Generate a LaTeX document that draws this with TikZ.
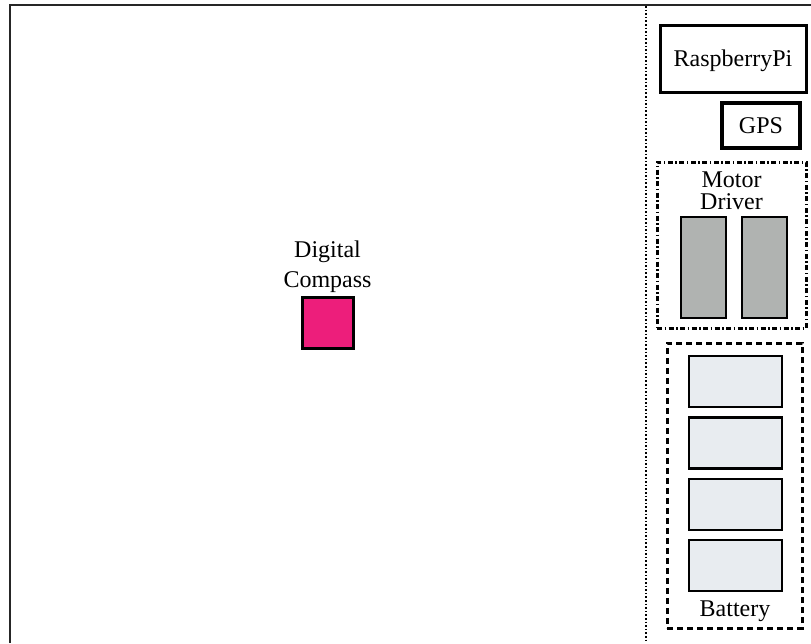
\documentclass[tikz,border=0pt]{standalone}
\usepackage{fontspec}
\setmainfont{Liberation Serif}
\usetikzlibrary{positioning}

\definecolor{compasspink}{RGB}{237,30,123}
\definecolor{drivergray}{RGB}{176,179,177}
\definecolor{cellblue}{RGB}{232,236,240}

\begin{document}
\begin{tikzpicture}[
    x=1pt, y=-1pt,
    every node/.style={font=\fontsize{24}{30}\selectfont},
    box/.style={rectangle, draw, line width=3pt, inner sep=0pt, text depth=0pt},
    driver/.style={rectangle, draw, line width=2.7pt, fill=drivergray, minimum width=45pt, minimum height=101pt},
    cell/.style={rectangle, draw, line width=2.7pt, fill=cellblue, minimum width=93pt, minimum height=51pt},
    group/.style={rectangle, draw, line width=3pt, inner sep=0pt},
    caption/.style={inner sep=0pt, align=center},
]
\useasboundingbox (0,0) rectangle (811,643);

% ====== Frame and divider ======
\draw[line width=2.4pt, black!85] (10,643) -- (10,5) -- (811,5);
\draw[line width=1.6pt, dotted] (646,6) -- (646,643);

% ====== Compass ======
\node[rectangle, draw, line width=3pt, fill=compasspink, minimum width=51pt, minimum height=51pt] (compass) at (327.5,322.5) {};
\node[caption, above=3pt of compass] (compasslbl) {Digital\\Compass};

% ====== Controller side ======
\node[box, minimum width=146pt, minimum height=67pt] (pi) at (733,58.5) {RaspberryPi};
\node[box, line width=3.4pt, minimum width=78pt, minimum height=45pt] (gps) at (761,125.5) {GPS};

% ====== Motor driver ======
\node[group, dash pattern=on 5pt off 2.5pt on 1.5pt off 2.5pt, minimum width=149pt, minimum height=166pt] (motor) at (731.5,245) {};
\node[caption, font=\fontsize{24}{22}\selectfont, below=11pt of motor.north] (motorlbl) {Motor\\Driver};
\node[driver] (drvA) at (703.5,267.5) {};
\node[driver] (drvB) at (764.5,267.5) {};

% ====== Battery pack ======
\node[group, dash pattern=on 6pt off 4pt, minimum width=135pt, minimum height=285pt] (battery) at (734.5,485.5) {};
\node[cell] (cell1) at (735.5,381.5) {};
\node[cell] (cell2) at (735.5,443) {};
\node[cell] (cell3) at (735.5,504.5) {};
\node[cell] (cell4) at (735.5,565.5) {};
\node[caption, anchor=base] (batterylbl) at (735,616) {Battery};

\end{tikzpicture}
\end{document}
